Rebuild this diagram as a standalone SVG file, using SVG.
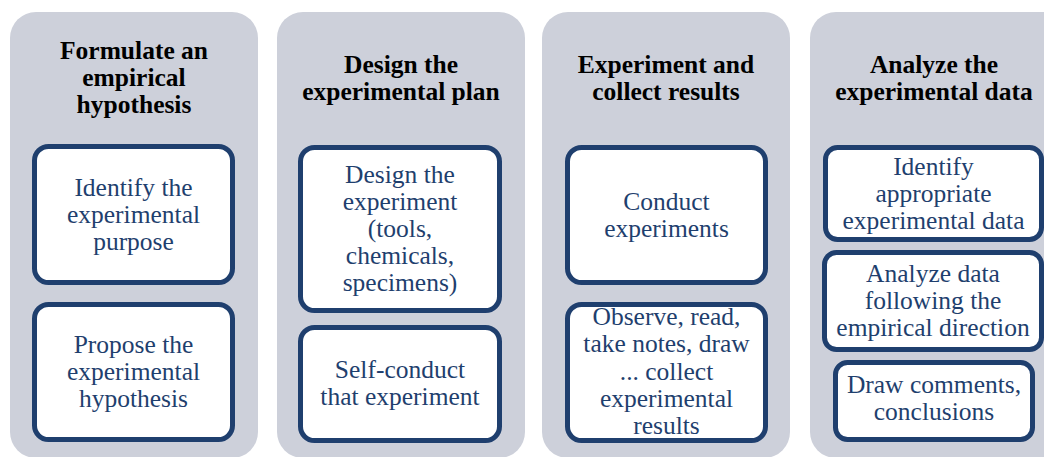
<svg xmlns="http://www.w3.org/2000/svg" width="1044" height="457" viewBox="0 0 1044 457">
  <style>
    .panel { fill: #cdd0da; }
    .box { fill: #ffffff; stroke: #1f3f6e; stroke-width: 5; }
    .head { font-family: "Liberation Serif", "Times New Roman", serif; font-size: 25.5px; font-weight: bold; fill: #000000; text-anchor: middle; }
    .txt { font-family: "Liberation Serif", "Times New Roman", serif; font-size: 25.5px; fill: #1f3f6e; text-anchor: middle; }
  </style>
  <rect width="1044" height="457" fill="#ffffff"/>

  <!-- Column 1 -->
  <g id="col1">
    <rect class="panel" x="10" y="12" width="248" height="446" rx="26"/>
    <text class="head" x="134" y="59">Formulate an</text>
    <text class="head" x="134" y="86">empirical</text>
    <text class="head" x="134" y="113">hypothesis</text>
  </g>
  <g id="identify-purpose">
    <rect class="box" x="34.5" y="146.5" width="198" height="136" rx="14"/>
    <text class="txt" x="133.5" y="196">Identify the</text>
    <text class="txt" x="133.5" y="223">experimental</text>
    <text class="txt" x="133.5" y="250">purpose</text>
  </g>
  <g id="propose-hypothesis">
    <rect class="box" x="34.5" y="304.5" width="198" height="135" rx="14"/>
    <text class="txt" x="133.5" y="353">Propose the</text>
    <text class="txt" x="133.5" y="380">experimental</text>
    <text class="txt" x="133.5" y="407">hypothesis</text>
  </g>

  <!-- Column 2 -->
  <g id="col2">
    <rect class="panel" x="277" y="12" width="248" height="446" rx="26"/>
    <text class="head" x="401" y="73">Design the</text>
    <text class="head" x="401" y="100">experimental plan</text>
  </g>
  <g id="design-experiment">
    <rect class="box" x="300.5" y="147.5" width="199" height="163" rx="14"/>
    <text class="txt" x="400" y="183">Design the</text>
    <text class="txt" x="400" y="210">experiment</text>
    <text class="txt" x="400" y="237">(tools,</text>
    <text class="txt" x="400" y="264">chemicals,</text>
    <text class="txt" x="400" y="291">specimens)</text>
  </g>
  <g id="self-conduct">
    <rect class="box" x="300.5" y="327.5" width="199" height="113" rx="14"/>
    <text class="txt" x="400" y="378">Self-conduct</text>
    <text class="txt" x="400" y="405">that experiment</text>
  </g>

  <!-- Column 3 -->
  <g id="col3">
    <rect class="panel" x="542" y="12" width="248" height="446" rx="26"/>
    <text class="head" x="666" y="73">Experiment and</text>
    <text class="head" x="666" y="100">collect results</text>
  </g>
  <g id="conduct-experiments">
    <rect class="box" x="567.5" y="147.5" width="198" height="135" rx="14"/>
    <text class="txt" x="666.5" y="210">Conduct</text>
    <text class="txt" x="666.5" y="237">experiments</text>
  </g>
  <g id="collect-results">
    <rect class="box" x="567.5" y="304.5" width="198" height="136" rx="14"/>
    <text class="txt" x="666.5" y="325">Observe, read,</text>
    <text class="txt" x="666.5" y="352">take notes, draw</text>
    <text class="txt" x="666.5" y="380">... collect</text>
    <text class="txt" x="666.5" y="407">experimental</text>
    <text class="txt" x="666.5" y="434">results</text>
  </g>

  <!-- Column 4 -->
  <g id="col4">
    <rect class="panel" x="810" y="12" width="260" height="446" rx="26"/>
    <text class="head" x="934" y="73">Analyze the</text>
    <text class="head" x="934" y="100">experimental data</text>
  </g>
  <g id="identify-data">
    <rect class="box" x="825.5" y="147.5" width="216" height="92" rx="12"/>
    <text class="txt" x="933.5" y="175">Identify</text>
    <text class="txt" x="933.5" y="202">appropriate</text>
    <text class="txt" x="933.5" y="229">experimental data</text>
  </g>
  <g id="analyze-data">
    <rect class="box" x="824.5" y="252.5" width="217" height="97" rx="12"/>
    <text class="txt" x="933" y="282">Analyze data</text>
    <text class="txt" x="933" y="309">following the</text>
    <text class="txt" x="933" y="336">empirical direction</text>
  </g>
  <g id="draw-conclusions">
    <rect class="box" x="835.5" y="362.5" width="197" height="77" rx="12"/>
    <text class="txt" x="934" y="393">Draw comments,</text>
    <text class="txt" x="934" y="420">conclusions</text>
  </g>

  <!-- the stages are laid out side by side; no connectors are drawn -->
  <g id="connectors"/>
</svg>
